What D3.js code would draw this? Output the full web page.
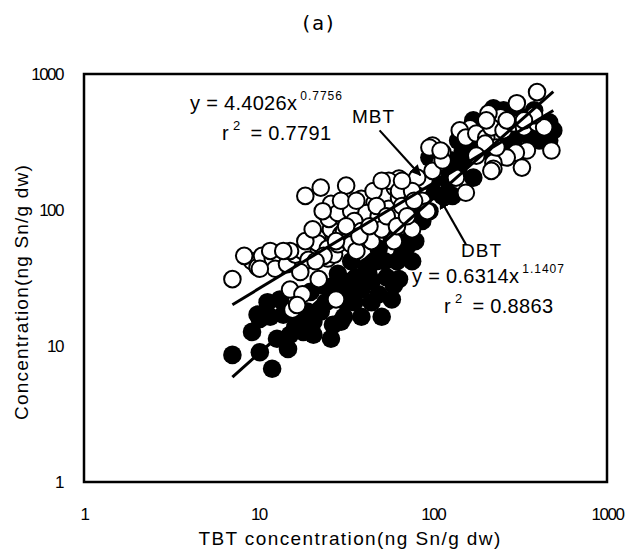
<!DOCTYPE html>
<html>
<head>
<meta charset="utf-8">
<script src="https://cdn.jsdelivr.net/npm/d3@7"></script>
<style>
  body { margin: 0; background: #fff; }
  text { font-family: "Liberation Sans", Arial, sans-serif; fill: #000; }
</style>
</head>
<body>
<div id="chart"></div>
<script>
// series names and fitted power-law coefficients (y = a * x^b)
var seriesNames = ["MBT", "DBT"];
var fitCoef = [4.4026, 0.6314];
var fitExp = [0.7756, 1.1407];
var fitR2 = ["0.7791", "0.8863"];
var tickValues = [1, 10, 100, 1000];

// MBT vs TBT (open circles), [TBT, MBT] in ng Sn/g dw
var mbtPoints = [
  [7.1, 31], [9.2, 42], [9.9, 38], [10.5, 46], [12.1, 44], [12.5, 37], [10.2, 37],
  [14.6, 40], [16.3, 47], [17.9, 50], [19.4, 43], [21.9, 62], [21.9, 57], [25.0, 44],
  [22.2, 31], [15.2, 26], [17.9, 24], [15.7, 18.5], [16.7, 20], [27.9, 22],
  [18.6, 127], [22.8, 146], [31.9, 151], [26.1, 111], [27.2, 87], [31.0, 98],
  [26.1, 72], [29.8, 66], [25.0, 52], [27.2, 47], [25.4, 86], [28.6, 95], [34.1, 98],
  [36.5, 83], [31.0, 70], [39.0, 121], [46.4, 113], [54.5, 127], [60.7, 146],
  [64.1, 170], [73.2, 146], [83.8, 146], [89.6, 164], [99.8, 298], [81.5, 173],
  [41.7, 95], [49.0, 90], [56.0, 102], [64.1, 95], [66.7, 76], [56.0, 79], [76.2, 72],
  [23.7, 46], [28.6, 56], [32.7, 59], [34.1, 56], [73.2, 111], [64.1, 123], [35.5, 83],
  [45.8, 138], [56.0, 164], [64.1, 138], [76.2, 138], [66.7, 164], [95.8, 288],
  [114, 264], [110, 223], [99.8, 194], [155, 134], [136, 173],
  [397, 736], [304, 610], [245, 480], [209, 514], [164, 398], [143, 385], [155, 341],
  [178, 365], [203, 341], [217, 405], [255, 385], [292, 433], [334, 405], [397, 433],
  [436, 405], [480, 274], [347, 274], [300, 264], [266, 243], [223, 223], [223, 201],
  [325, 205], [232, 288], [200, 308], [178, 251], [382, 497], [334, 456], [266, 456],
  [217, 194], [114, 231], [111, 274], [203, 456],
  [39.0, 70], [44.6, 59], [51, 72], [36.5, 50], [59.9, 59], [66.7, 107], [87.2, 117], [93, 98],
  [15.2, 50], [18.6, 59], [20.5, 72], [23.4, 98], [29.8, 117], [38, 64], [43.4, 76],
  [47.7, 107], [54.5, 90], [62.4, 76], [71.3, 90], [78.3, 117], [51, 164], [36.5, 117],
  [31.9, 76], [27.9, 59], [21.3, 42], [17.4, 35], [11.7, 50], [13.9, 50], [8.3, 46]
];

// DBT vs TBT (filled circles), [TBT, DBT] in ng Sn/g dw
var dbtPoints = [
  [7.1, 8.6], [10.2, 9.0], [12.0, 6.8], [9.2, 12.7], [10.2, 15.8], [11.3, 21], [13.3, 22],
  [12.8, 11.3], [15.2, 12.1], [14.8, 9.5], [18.1, 12.7], [20.7, 12.1], [26.1, 11.3],
  [26.8, 14.3], [20.7, 15.1], [16.7, 15.1], [31.0, 16.4], [35.5, 21], [32.7, 25],
  [39.0, 26], [49.0, 24], [51.0, 16.4], [59.9, 28], [64.1, 31], [42.8, 34], [27.2, 28],
  [22.8, 28], [28.6, 34], [53.1, 42], [66.7, 47], [79.4, 59], [87.2, 83], [95.8, 98],
  [69.4, 66], [49.0, 52], [19.1, 17.9], [13.9, 17], [9.9, 17], [16.3, 13.8], [34.1, 42],
  [41.7, 38], [36.5, 32], [31.9, 21], [24.4, 21], [44.6, 21], [58.3, 22], [19.9, 25],
  [64.1, 98], [73.2, 74], [95.8, 243], [114, 212], [140, 194], [171, 173], [122, 164],
  [99.8, 138], [87.2, 127], [114, 127], [76.2, 90], [81.5, 117], [223, 560], [466, 441],
  [492, 385], [436, 324], [140, 324], [171, 308], [149, 274], [255, 541], [312, 497],
  [357, 353], [273, 324], [195, 274], [408, 324], [130, 231], [58.3, 62],
  [17.4, 17.9], [22.8, 17.9], [29.8, 15.1], [39, 16.4], [44.6, 30], [54.5, 32], [47.7, 42],
  [62.4, 42], [71.3, 54], [76.2, 42], [26.1, 23], [29.8, 30], [11.7, 16.4],
  [99.8, 164], [122, 212], [149, 231], [182, 274], [130, 127],
  [195, 419], [382, 541], [292, 324], [466, 324], [171, 456]
];

var width = 634, height = 552;
var margin = { top: 74, right: 27, bottom: 70, left: 84 };

var svg = d3.select("#chart").append("svg")
  .attr("width", width)
  .attr("height", height);

var x = d3.scaleLog().domain([1, 1000]).range([margin.left, width - margin.right]);
var y = d3.scaleLog().domain([1, 1000]).range([height - margin.bottom, margin.top]);

// title
svg.append("text")
  .attr("x", 318).attr("y", 30)
  .attr("text-anchor", "middle")
  .style("font-family", "'DejaVu Sans Mono', monospace")
  .style("font-size", "20px")
  .text("(a)");

// plot box
svg.append("rect")
  .attr("x", x(1)).attr("y", y(1000))
  .attr("width", x(1000) - x(1))
  .attr("height", y(1) - y(1000))
  .attr("fill", "none")
  .attr("stroke", "#000")
  .attr("stroke-width", 2.5);

// axes: labels only, no tick marks
var xAxis = svg.append("g")
  .attr("transform", "translate(0," + (y(1) + 20) + ")")
  .call(d3.axisBottom(x).tickValues(tickValues).tickSize(0).tickFormat(d3.format("d")));
xAxis.select(".domain").remove();
xAxis.selectAll("text")
  .style("font-size", "17px")
  .style("letter-spacing", "-1.5px")
  .attr("dy", "0.9em");

var yAxis = svg.append("g")
  .attr("transform", "translate(" + (x(1) - 18) + ",0)")
  .call(d3.axisLeft(y).tickValues(tickValues).tickSize(0).tickFormat(d3.format("d")));
yAxis.select(".domain").remove();
yAxis.selectAll("text")
  .style("font-size", "17px")
  .style("letter-spacing", "-1.5px");

// axis titles
svg.append("text")
  .attr("x", 350).attr("y", 545)
  .attr("text-anchor", "middle")
  .style("font-size", "19px")
  .style("letter-spacing", "1.4px")
  .text("TBT concentration(ng Sn/g dw)");

svg.append("text")
  .attr("transform", "translate(28," + 292 + ") rotate(-90)")
  .attr("text-anchor", "middle")
  .style("font-size", "19px")
  .style("letter-spacing", "1.2px")
  .text("Concentration(ng Sn/g dw)");

// points: filled DBT first, open MBT over it
svg.append("g").selectAll("circle")
  .data(dbtPoints)
  .enter().append("circle")
  .attr("cx", function (d) { return x(d[0]); })
  .attr("cy", function (d) { return y(d[1]); })
  .attr("r", 9.3)
  .attr("fill", "#000");

svg.append("g").selectAll("circle")
  .data(mbtPoints)
  .enter().append("circle")
  .attr("cx", function (d) { return x(d[0]); })
  .attr("cy", function (d) { return y(d[1]); })
  .attr("r", 8.3)
  .attr("fill", "#fff")
  .attr("stroke", "#000")
  .attr("stroke-width", 2);

// trend lines over the TBT range of the data
var xExt = d3.extent(mbtPoints.concat(dbtPoints), function (d) { return d[0]; });
var lineGen = d3.line()
  .x(function (d) { return x(d[0]); })
  .y(function (d) { return y(d[1]); });

seriesNames.forEach(function (name, i) {
  var ends = xExt.map(function (v) { return [v, fitCoef[i] * Math.pow(v, fitExp[i])]; });
  svg.append("path")
    .datum(ends)
    .attr("d", lineGen)
    .attr("fill", "none")
    .attr("stroke", "#000")
    .attr("stroke-width", 3);
});

// equation labels
function equation(px, py, i) {
  var t = svg.append("text").attr("x", px).attr("y", py)
    .style("font-size", "20px").style("letter-spacing", "0.3px");
  t.append("tspan").text("y = " + fitCoef[i].toFixed(4) + "x");
  t.append("tspan").attr("dx", 3).attr("dy", -10).style("font-size", "12px").style("letter-spacing", "1px")
    .text(fitExp[i].toFixed(4));
  var r = svg.append("text").attr("x", px + 32).attr("y", py + 30)
    .style("font-size", "20px").style("letter-spacing", "0.3px");
  r.append("tspan").text("r");
  r.append("tspan").attr("dy", -10).attr("dx", 4).style("font-size", "13px").text("2");
  r.append("tspan").attr("dy", 10).attr("dx", 10).text("= " + fitR2[i]);
}
equation(190, 110, 0);
equation(412, 283, 1);

// series labels with arrows
svg.append("defs").append("marker")
  .attr("id", "head")
  .attr("viewBox", "0 0 10 10")
  .attr("refX", 9).attr("refY", 5)
  .attr("markerWidth", 5).attr("markerHeight", 5)
  .attr("orient", "auto")
  .append("path").attr("d", "M0,0 L10,5 L0,10 z").attr("fill", "#000");

var labels = [
  { name: seriesNames[0], tx: 352, ty: 123, from: [49.6, 385], to: [85, 180] },
  { name: seriesNames[1], tx: 461, ty: 257, from: [155, 56], to: [110, 121] }
];
labels.forEach(function (l) {
  svg.append("text").attr("x", l.tx).attr("y", l.ty)
    .style("font-size", "19px").style("letter-spacing", "1px").text(l.name);
  svg.append("line")
    .attr("x1", x(l.from[0])).attr("y1", y(l.from[1]))
    .attr("x2", x(l.to[0])).attr("y2", y(l.to[1]))
    .attr("stroke", "#000").attr("stroke-width", 2.2)
    .attr("marker-end", "url(#head)");
});
</script>
</body>
</html>
